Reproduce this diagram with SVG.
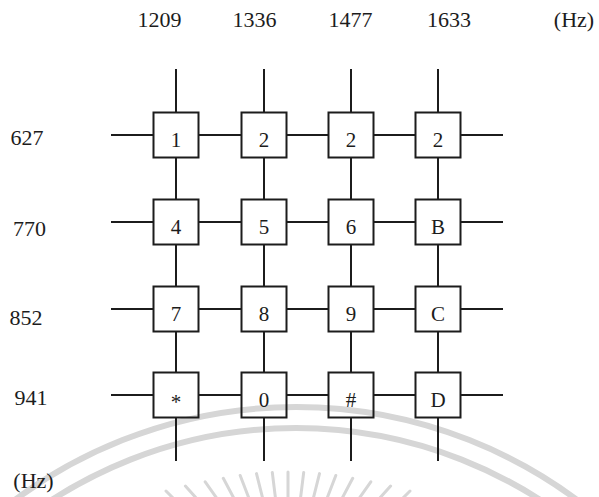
<svg xmlns="http://www.w3.org/2000/svg" width="599" height="497" viewBox="0 0 599 497">
  <style>
    .bg { fill: #ffffff; }
    .wm { fill: none; stroke: #d6d6d6; }
    .arc { stroke-width: 6; }
    .ray { stroke-width: 3; stroke-linecap: round; }
    .wire { stroke: #1c1c1c; stroke-width: 2; fill: none; }
    .key { fill: none; stroke: #1c1c1c; stroke-width: 2; }
    .lbl { font-family: "Liberation Serif", "Times New Roman", serif; font-size: 22px; fill: #1c1c1c; text-anchor: middle; }
    .kt { font-family: "Liberation Serif", "Times New Roman", serif; font-size: 21px; fill: #1c1c1c; text-anchor: middle; }
  </style>

  <rect class="bg" x="0" y="0" width="599" height="497"/>

  <!-- faint emblem behind the keypad: two concentric bands and a sunburst -->
  <g id="emblem" class="wm">
    <circle class="arc" cx="296" cy="878" r="471"/>
    <circle class="arc" cx="296" cy="878" r="450"/>
    <g class="ray">
      <line x1="288" y1="472" x2="288" y2="500"/>
      <line x1="303.7" y1="472.4" x2="300.3" y2="500"/>
      <line x1="319.5" y1="473.6" x2="312.9" y2="500"/>
      <line x1="335.8" y1="475.5" x2="326.4" y2="500"/>
      <line x1="352.7" y1="478.3" x2="341.2" y2="500"/>
      <line x1="370.8" y1="481.8" x2="358" y2="500"/>
      <line x1="390.6" y1="486.1" x2="378" y2="500"/>
      <line x1="410" y1="491" x2="401" y2="500"/>
      <line x1="272.3" y1="472.4" x2="275.7" y2="500"/>
      <line x1="256.5" y1="473.6" x2="263.1" y2="500"/>
      <line x1="240.2" y1="475.5" x2="249.6" y2="500"/>
      <line x1="223.3" y1="478.3" x2="234.8" y2="500"/>
      <line x1="205.2" y1="481.8" x2="218" y2="500"/>
      <line x1="185.4" y1="486.1" x2="198" y2="500"/>
      <line x1="166" y1="491" x2="175" y2="500"/>
    </g>
  </g>

  <!-- frequency labels -->
  <g id="col-labels">
    <text class="lbl" x="159.5" y="27">1209</text>
    <text class="lbl" x="254.5" y="27">1336</text>
    <text class="lbl" x="350.5" y="27">1477</text>
    <text class="lbl" x="449" y="27">1633</text>
    <text class="lbl" x="574" y="27">(Hz)</text>
  </g>
  <g id="row-labels">
    <text class="lbl" x="27" y="145">627</text>
    <text class="lbl" x="29.5" y="236">770</text>
    <text class="lbl" x="26" y="325">852</text>
    <text class="lbl" x="31" y="405">941</text>
    <text class="lbl" x="33.5" y="488">(Hz)</text>
  </g>

  <!-- grid wires between keys -->
  <g id="connectors" class="wire">
    <!-- rows -->
    <path d="M111 135H153.5 M198.5 135H241.5 M286.5 135H328.5 M373.5 135H415.5 M460.5 135H503"/>
    <path d="M111 222H153.5 M198.5 222H241.5 M286.5 222H328.5 M373.5 222H415.5 M460.5 222H503"/>
    <path d="M111 309H153.5 M198.5 309H241.5 M286.5 309H328.5 M373.5 309H415.5 M460.5 309H503"/>
    <path d="M111 395H153.5 M198.5 395H241.5 M286.5 395H328.5 M373.5 395H415.5 M460.5 395H503"/>
    <!-- columns -->
    <path d="M176 69V112.5 M176 157.5V199.5 M176 244.5V286.5 M176 331.5V372.5 M176 417.5V461"/>
    <path d="M264 69V112.5 M264 157.5V199.5 M264 244.5V286.5 M264 331.5V372.5 M264 417.5V461"/>
    <path d="M351 69V112.5 M351 157.5V199.5 M351 244.5V286.5 M351 331.5V372.5 M351 417.5V461"/>
    <path d="M438 69V112.5 M438 157.5V199.5 M438 244.5V286.5 M438 331.5V372.5 M438 417.5V461"/>
  </g>

  <!-- keys -->
  <g id="key-1"><rect class="key" x="153.5" y="112.5" width="45" height="45"/><text class="kt" x="176" y="146.5">1</text></g>
  <g id="key-2a"><rect class="key" x="241.5" y="112.5" width="45" height="45"/><text class="kt" x="264" y="146.5">2</text></g>
  <g id="key-2b"><rect class="key" x="328.5" y="112.5" width="45" height="45"/><text class="kt" x="351" y="146.5">2</text></g>
  <g id="key-2c"><rect class="key" x="415.5" y="112.5" width="45" height="45"/><text class="kt" x="438" y="146.5">2</text></g>

  <g id="key-4"><rect class="key" x="153.5" y="199.5" width="45" height="45"/><text class="kt" x="176" y="233.5">4</text></g>
  <g id="key-5"><rect class="key" x="241.5" y="199.5" width="45" height="45"/><text class="kt" x="264" y="233.5">5</text></g>
  <g id="key-6"><rect class="key" x="328.5" y="199.5" width="45" height="45"/><text class="kt" x="351" y="233.5">6</text></g>
  <g id="key-B"><rect class="key" x="415.5" y="199.5" width="45" height="45"/><text class="kt" x="438" y="233.5">B</text></g>

  <g id="key-7"><rect class="key" x="153.5" y="286.5" width="45" height="45"/><text class="kt" x="176" y="320.5">7</text></g>
  <g id="key-8"><rect class="key" x="241.5" y="286.5" width="45" height="45"/><text class="kt" x="264" y="320.5">8</text></g>
  <g id="key-9"><rect class="key" x="328.5" y="286.5" width="45" height="45"/><text class="kt" x="351" y="320.5">9</text></g>
  <g id="key-C"><rect class="key" x="415.5" y="286.5" width="45" height="45"/><text class="kt" x="438" y="320.5">C</text></g>

  <g id="key-star"><rect class="key" x="153.5" y="372.5" width="45" height="45"/><text class="kt" x="176" y="408.5">*</text></g>
  <g id="key-0"><rect class="key" x="241.5" y="372.5" width="45" height="45"/><text class="kt" x="264" y="406.5">0</text></g>
  <g id="key-hash"><rect class="key" x="328.5" y="372.5" width="45" height="45"/><text class="kt" x="351" y="406.5">#</text></g>
  <g id="key-D"><rect class="key" x="415.5" y="372.5" width="45" height="45"/><text class="kt" x="438" y="406.5">D</text></g>
</svg>
